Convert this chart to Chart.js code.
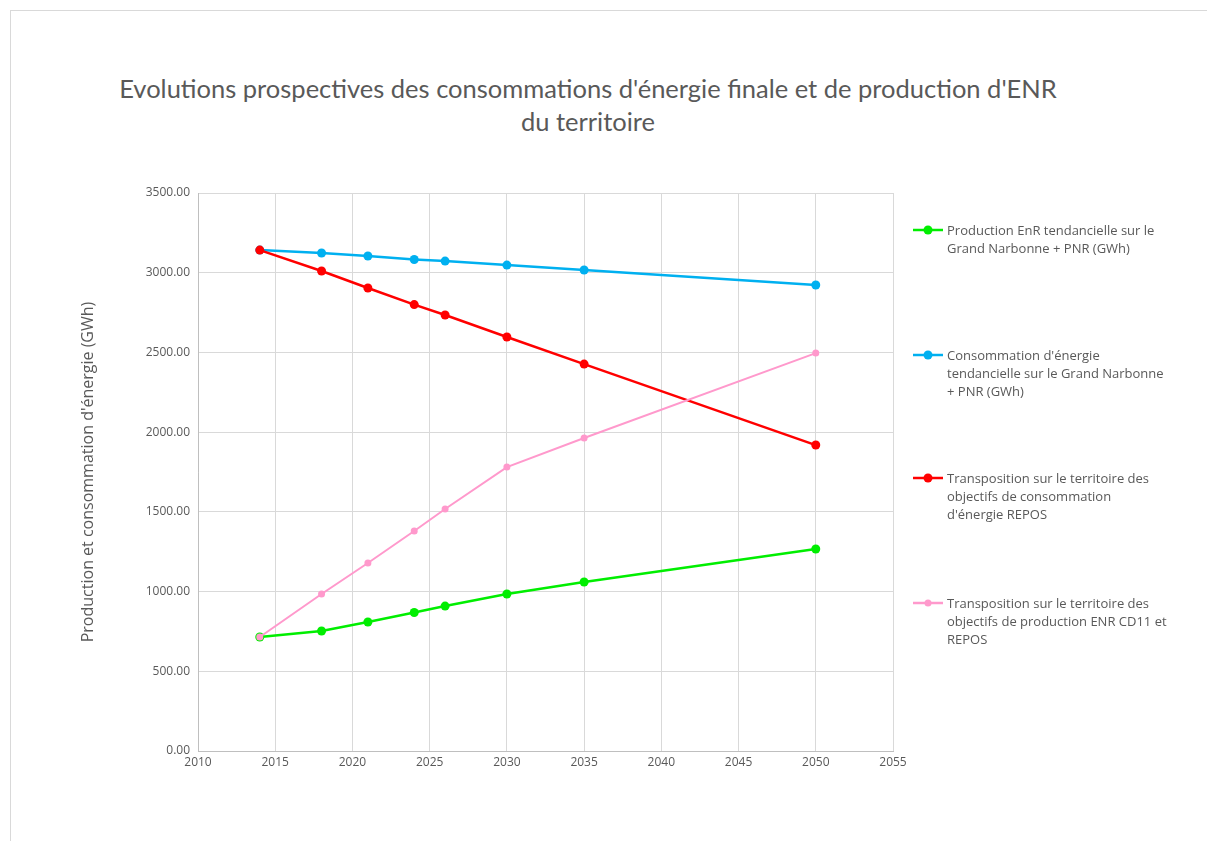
<!DOCTYPE html>
<html>
<head>
<meta charset="utf-8">
<script src="https://cdn.jsdelivr.net/npm/chart.js@4/dist/chart.umd.min.js"></script>
<style>
	html, body { margin: 0; padding: 0; background: #fff; }
	#wrap { position: relative; width: 1207px; height: 841px; overflow: hidden; }
	#frame { position: absolute; left: 10px; top: 10px; width: 1210px; height: 840px; border: 1px solid #d9d9d9; box-sizing: border-box; }
	#title { position: absolute; left: 88px; width: 1000px; top: 72px; text-align: center; font-family: Lato, sans-serif; font-size: 25.5px; line-height: 33px; color: #595959; }
	#legend { position: absolute; left: 913px; top: 0; font-family: "Open Sans", sans-serif; font-size: 13px; line-height: 18px; color: #595959; }
	.item { position: absolute; left: 0; width: 290px; }
	.item .key { position: absolute; left: 0; top: 3px; width: 30px; height: 12px; }
	.item .txt { position: absolute; left: 34px; width: 222px; }
	canvas { position: absolute; left: 0; top: 0; }
</style>
</head>
<body>
<div id="wrap">
	<div id="frame"></div>
	<div id="title">Evolutions prospectives des consommations d'énergie finale et de production d'ENR<br>du territoire</div>
	<canvas id="chart" width="1207" height="841"></canvas>
	<div id="legend"></div>
</div>
<script>
// Years for all series
const years = [ 2014, 2018, 2021, 2024, 2026, 2030, 2035, 2050 ];

const productionTendancielle = [ 715, 753, 809, 869, 909, 985, 1060, 1267 ];
const consommationTendancielle = [ 3142, 3124, 3105, 3083, 3073, 3048, 3017, 2923 ];
const consommationRepos = [ 3142, 3011, 2904, 2800, 2735, 2597, 2427, 1919 ];
const productionRepos = [ 715, 985, 1179, 1380, 1518, 1781, 1963, 2496 ];

const seriesLabels = [
	'Production EnR tendancielle sur le Grand Narbonne + PNR (GWh)',
	'Consommation d\'énergie tendancielle sur le Grand Narbonne + PNR (GWh)',
	'Transposition sur le territoire des objectifs de consommation d\'énergie REPOS',
	'Transposition sur le territoire des objectifs de production ENR CD11 et REPOS'
];
const seriesColors = [ '#00ee00', '#00b0f0', '#ff0000', '#ff99cc' ];

const xTicks = [ 2010, 2055 ];
const yMax = 3500;

function points( values ) {
	return years.map( function ( y, i ) {
		return { x: y, y: values[ i ] };
	} );
}

const allValues = [ productionTendancielle, consommationTendancielle, consommationRepos, productionRepos ];
const drawOrder = [ 3, 2, 1, 0 ];

let datasets = [];
allValues.forEach( function ( values, i ) {
	const pink = i === 3;
	datasets.push( {
		label: seriesLabels[ i ],
		data: points( values ),
		borderColor: seriesColors[ i ],
		backgroundColor: seriesColors[ i ],
		borderWidth: pink ? 2 : 2.5,
		pointRadius: pink ? 3.5 : 4.5,
		pointHoverRadius: pink ? 3.5 : 4.5,
		pointBorderWidth: 0,
		showLine: true,
		tension: 0,
		order: drawOrder[ i ]
	} );
} );

const ctx = document.getElementById( 'chart' ).getContext( '2d' );
new Chart( ctx, {
	type: 'scatter',
	data: { datasets: datasets },
	options: {
		responsive: false,
		animation: false,
		layout: { padding: { left: 79, right: 314, top: 193, bottom: 60 } },
		plugins: {
			legend: { display: false },
			tooltip: { enabled: false }
		},
		scales: {
			x: {
				type: 'linear',
				min: xTicks[ 0 ],
				max: xTicks[ 1 ],
				ticks: {
					stepSize: 5,
					color: '#595959',
					font: { family: 'Open Sans', size: 12 },
					maxRotation: 0,
					padding: 4,
					callback: function ( v ) { return String( v ); }
				},
				grid: { color: '#d9d9d9', drawTicks: false },
				border: { color: '#bfbfbf' },
				afterFit: function ( scale ) { scale.height = 30; }
			},
			y: {
				min: 0,
				max: yMax,
				ticks: {
					stepSize: 500,
					color: '#595959',
					font: { family: 'Open Sans', size: 12 },
					padding: 8,
					callback: function ( v ) { return v.toFixed( 2 ); }
				},
				grid: { color: '#d9d9d9', drawTicks: false },
				border: { color: '#bfbfbf' },
				title: {
					display: true,
					text: 'Production et consommation d\'énergie (GWh)',
					color: '#595959',
					font: { family: 'Open Sans', size: 16 },
					padding: 0
				},
				afterFit: function ( scale ) { scale.width = 119; }
			}
		}
	}
} );

// Legend on the right, one entry per dataset
const legendTops = [ 221, 346, 469, 594 ];
const legend = document.getElementById( 'legend' );
seriesLabels.forEach( function ( label, i ) {
	const r = i === 3 ? 3.5 : 4.5;
	const item = document.createElement( 'div' );
	item.className = 'item';
	item.style.top = legendTops[ i ] + 'px';
	item.innerHTML =
		'<svg class="key" width="30" height="12"><line x1="0" y1="6" x2="30" y2="6" stroke="' + seriesColors[ i ] +
		'" stroke-width="2.5"/><circle cx="15" cy="6" r="' + r + '" fill="' + seriesColors[ i ] + '"/></svg>' +
		'<div class="txt"></div>';
	item.querySelector( '.txt' ).textContent = label;
	legend.appendChild( item );
} );
</script>
</body>
</html>
